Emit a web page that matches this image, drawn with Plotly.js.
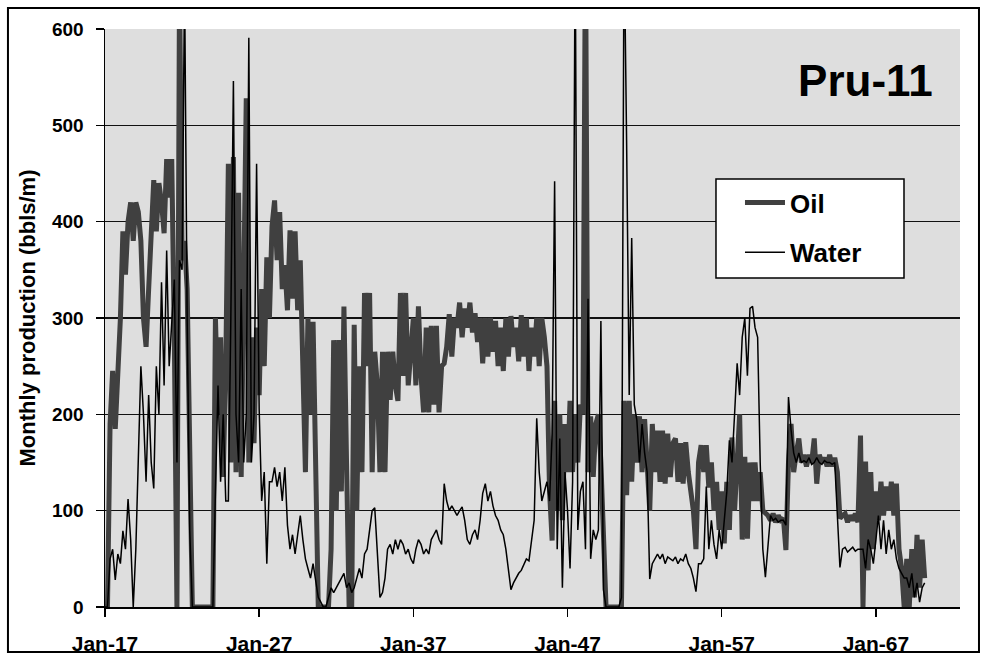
<!DOCTYPE html>
<html>
<head>
<meta charset="utf-8">
<script src="https://cdn.plot.ly/plotly-3.0.1.min.js"></script>
<style>
html,body{margin:0;padding:0;background:#ffffff;}
#chart{width:987px;height:660px;}
</style>
</head>
<body>
<div id="chart"></div>
<script>
// Monthly production read off the picture, sampled every two months
// (Jan, Mar, May, Jul, Sep, Nov) starting January 1917.
const startYear = 1917;

const oil_1917_1926 = [
  0, 0, 190, 245, 185, 240,
  300, 390, 345, 400, 420, 380,
  420, 410, 380, 300, 270, 330,
  400, 443, 390, 440, 420, 388,
  465, 425, 465, 280, 0, 650,
  360, 380, 330, 140, 0, 0,
  0, 0, 0, 0, 0, 0,
  0, 300, 200, 280, 135, 250,
  460, 150, 467, 140, 430, 135,
  300, 528, 150, 280, 170, 290
];
const oil_1927_1936 = [
  220, 330, 250, 363, 300, 395,
  422, 360, 410, 330, 355, 308,
  391, 320, 390, 308, 360, 250,
  140, 300, 200, 296, 100, 0,
  0, 0, 0, 0, 60, 277,
  100, 277, 120, 312, 150, 0,
  0, 293, 100, 250, 140, 326,
  250, 326, 140, 265, 230, 140,
  265, 140, 265, 215, 265, 230,
  214, 326, 240, 326, 230, 260
];
const oil_1937_1946 = [
  300, 230, 312, 240, 202, 290,
  202, 292, 210, 292, 202, 250,
  253, 270, 304, 260, 300, 290,
  316, 280, 310, 290, 316, 285,
  305, 275, 300, 253, 300, 260,
  300, 265, 297, 250, 290, 245,
  300, 260, 302, 270, 290, 255,
  303, 260, 300, 245, 290, 260,
  300, 250, 300, 280, 250, 120,
  69, 214, 100, 200, 90, 190
];
const oil_1947_1956 = [
  140, 214, 140, 200, 150, 210,
  200, 700, 140, 198, 135, 190,
  200, 150, 60, 0, 0, 0,
  0, 0, 0, 0, 214, 116,
  214, 130, 200, 150, 198, 140,
  195, 150, 100, 190, 140, 183,
  130, 183, 128, 180, 135, 170,
  175, 130, 170, 128, 171, 140,
  120, 100, 60, 150, 168, 140,
  168, 124, 150, 100, 130, 80
];
const oil_1957_1966 = [
  120, 66, 130, 80, 176, 100,
  150, 200, 70, 156, 71, 150,
  110, 150, 110, 140, 100, 97,
  95, 90, 97, 88, 95, 90,
  92, 59, 150, 190, 140, 160,
  175, 150, 158, 146, 158, 150,
  175, 128, 158, 150, 155, 146,
  158, 146, 155, 140, 92, 95,
  97, 88, 95, 90, 97, 88,
  178, 0, 151, 38, 140, 60
];
const oil_1967_1970 = [
  120, 90, 130, 95, 125, 100,
  130, 95, 128, 60, 40, 0,
  50, 0, 60, 10, 75, 20,
  70, 30
];

const water_1917_1926 = [
  0, 0, 50, 60, 28, 55,
  45, 79, 60, 112, 70, 0,
  60, 160, 250, 200, 130, 220,
  150, 123, 250, 200, 337, 230,
  370, 250, 300, 340, 150, 360,
  350, 650, 300, 80, 0, 0,
  0, 0, 0, 0, 0, 0,
  0, 120, 230, 130, 200, 110,
  110, 300, 546, 200, 150, 330,
  150, 200, 591, 150, 200, 460
];
const water_1927_1936 = [
  205, 110, 140, 45, 130, 130,
  145, 125, 140, 110, 145, 85,
  60, 75, 55, 75, 95, 70,
  50, 40, 30, 45, 25, 10,
  5, 0, 0, 10, 20, 15,
  20, 25, 30, 35, 20, 25,
  15, 20, 30, 40, 30, 55,
  60, 80, 100, 103, 60, 10,
  15, 30, 60, 65, 55, 70,
  60, 70, 65, 55, 60, 50
];
const water_1937_1946 = [
  45, 60, 70, 65, 55, 60,
  55, 70, 75, 80, 70, 65,
  128, 110, 100, 105, 100, 95,
  100, 104, 90, 70, 65, 75,
  80, 70, 90, 118, 128, 110,
  120, 105, 95, 90, 80, 75,
  60, 40, 18, 25, 30, 35,
  38, 45, 50, 48, 70, 90,
  196, 140, 110, 120, 130, 110,
  180, 442, 60, 175, 20, 140
];
const water_1947_1956 = [
  100, 40, 130, 700, 80, 120,
  130, 60, 320, 50, 80, 70,
  80, 297, 18, 0, 0, 0,
  0, 0, 0, 10, 700, 480,
  220, 383, 210, 194, 150, 190,
  160, 140, 29, 45, 50, 55,
  50, 55, 45, 52, 50, 48,
  52, 45, 50, 48, 55, 45,
  40, 30, 16, 45, 45, 50,
  125, 60, 90, 65, 50, 80
];
const water_1957_1966 = [
  60, 90, 120, 173, 150, 200,
  253, 220, 280, 300, 240, 310,
  312, 290, 280, 150, 60, 31,
  60, 95, 90, 92, 88, 90,
  90, 85, 218, 184, 160, 150,
  160, 150, 152, 150, 155, 148,
  150, 155, 150, 148, 152, 150,
  150, 148, 150, 100, 41, 60,
  62, 57, 60, 62, 58, 60,
  60, 60, 40, 70, 60, 45
];
const water_1967_1970 = [
  70, 95, 60, 90, 55, 80,
  60, 70, 50, 40, 35, 30,
  30, 20, 35, 10, 25, 5,
  20, 25
];

const tickDates = ['1917-01-01','1927-01-01','1937-01-01','1947-01-01','1957-01-01','1967-01-01'];
const tickLabels = ['Jan-17','Jan-27','Jan-37','Jan-47','Jan-57','Jan-67'];
const yTicks = [0, 100, 200, 300, 400, 500, 600];

const oil = [].concat(oil_1917_1926, oil_1927_1936, oil_1937_1946, oil_1947_1956, oil_1957_1966, oil_1967_1970);
const water = [].concat(water_1917_1926, water_1927_1936, water_1937_1946, water_1947_1956, water_1957_1966, water_1967_1970);

function sampleDate(i) {
  const m = i * 2;
  const y = startYear + Math.floor(m / 12);
  const mo = (m % 12) + 1;
  return y + '-' + String(mo).padStart(2, '0') + '-01';
}
const oilDates = oil.map((_, i) => sampleDate(i));
const waterDates = water.map((_, i) => sampleDate(i));

const FONT = 'Liberation Sans, Arial, Helvetica, sans-serif';

const traces = [
  {
    type: 'scatter', mode: 'lines', name: 'Oil',
    x: oilDates, y: oil,
    line: {color: '#404040', width: 5},
    legendgroup: 'oil', hoverinfo: 'skip'
  },
  {
    type: 'scatter', mode: 'lines', name: 'Water',
    x: waterDates, y: water,
    line: {color: '#000000', width: 1.5},
    legendgroup: 'water', hoverinfo: 'skip'
  }
];

const layout = {
  width: 987, height: 660,
  margin: {l: 105, r: 27, t: 29, b: 53, pad: 0},
  paper_bgcolor: '#ffffff',
  plot_bgcolor: '#dedede',
  font: {family: FONT, color: '#000000'},
  title: {
    text: 'Pru-11',
    font: {family: FONT, size: 44, weight: 'bold', color: '#000000'},
    xref: 'paper', yref: 'paper',
    x: 0.968, xanchor: 'right',
    y: 0.911, yanchor: 'middle'
  },
  showlegend: true,
  legend: {
    x: 0.7146, xanchor: 'left',
    y: 0.7405, yanchor: 'top',
    bgcolor: 'rgba(0,0,0,0)', borderwidth: 0,
    font: {family: FONT, size: 26, weight: 'bold', color: '#000000'},
    traceorder: 'grouped', tracegroupgap: 13,
    itemwidth: 40,
    indentation: 24
  },
  xaxis: {
    type: 'date',
    range: ['1917-01-01', '1972-06-15'],
    tickmode: 'array', tickvals: tickDates, ticktext: tickLabels,
    ticks: 'outside', ticklen: 8, tickwidth: 1.5, tickcolor: '#000000',
    showline: true, linecolor: '#000000', linewidth: 1.5,
    showgrid: false, zeroline: false,
    tickfont: {family: FONT, size: 21, weight: 'bold', color: '#000000'},
    ticklabelstandoff: 9,
    fixedrange: true
  },
  yaxis: {
    range: [0, 600],
    tickmode: 'array', tickvals: yTicks,
    ticks: 'outside', ticklen: 8, tickwidth: 1.5, tickcolor: '#000000',
    showline: true, linecolor: '#000000', linewidth: 1.5,
    showgrid: true, gridcolor: '#111111', gridwidth: 1.6,
    zeroline: false,
    tickfont: {family: FONT, size: 19, weight: 'bold', color: '#000000'},
    ticklabelstandoff: 8,
    title: {
      text: 'Monthly production (bbls/m)',
      font: {family: FONT, size: 22, weight: 'bold', color: '#000000'},
      standoff: 10
    },
    fixedrange: true
  },
  shapes: [
    {
      // outer chart frame
      type: 'rect', xref: 'paper', yref: 'paper',
      x0: -0.1135, x1: 1.0222, y0: -0.0779, y1: 1.0363,
      line: {color: '#000000', width: 2},
      fillcolor: 'rgba(0,0,0,0)'
    },
    {
      // legend box
      type: 'rect', xref: 'paper', yref: 'paper', layer: 'above',
      x0: 0.7146, x1: 0.9345, y0: 0.5692, y1: 0.7405,
      line: {color: '#000000', width: 1.5},
      fillcolor: '#ffffff'
    }
  ]
};

Plotly.newPlot('chart', traces, layout, {displayModeBar: false, staticPlot: true});
</script>
</body>
</html>
